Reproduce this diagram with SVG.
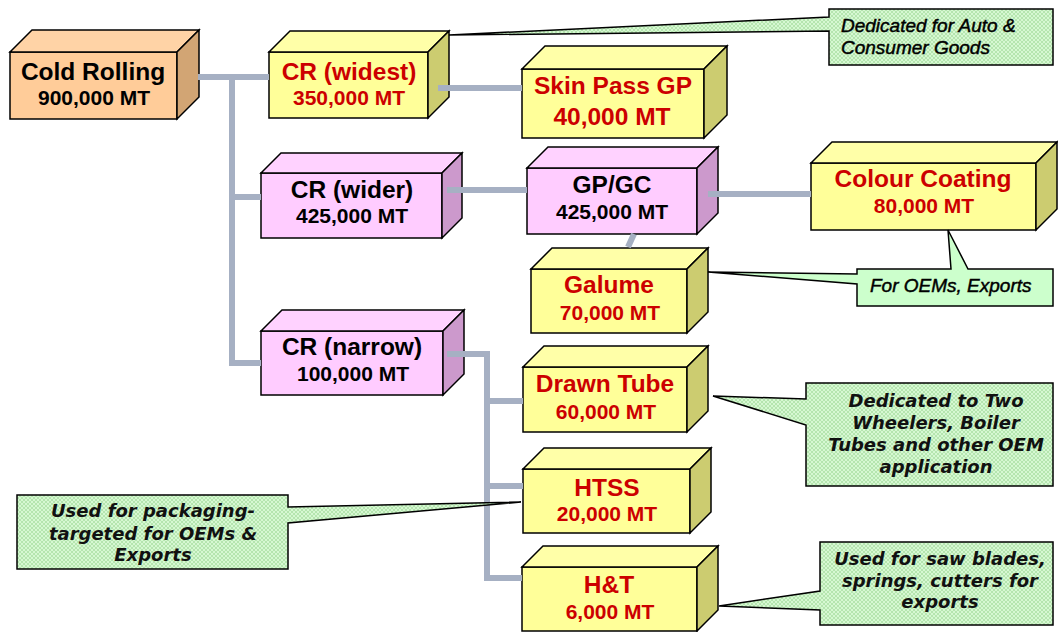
<svg xmlns="http://www.w3.org/2000/svg" width="1058" height="632" viewBox="0 0 1058 632">
<defs>
<pattern id="hatch" width="4" height="4" patternUnits="userSpaceOnUse">
<rect width="4" height="4" fill="#D6F8D2"/>
<path d="M0,0 L4,4 M4,0 L0,4" stroke="#A6DDA0" stroke-width="0.7"/>
</pattern>
<style>
.edge{stroke:#000;stroke-width:1.5;stroke-linejoin:miter}
.yf{fill:#FFFF99}.yt{fill:#FFFFA8}.ys{fill:#CCCC70}
.pf{fill:#FFCCFF}.pt{fill:#FFD2FF}.ps{fill:#CC99CC}
.of{fill:#FFCC99}.ot{fill:#FFD3A6}.os{fill:#D2A574}
.t1{font-family:"Liberation Sans",Arial,sans-serif;font-weight:bold;font-size:24.5px;text-anchor:middle}
.t2{font-family:"Liberation Sans",Arial,sans-serif;font-weight:bold;font-size:21px;text-anchor:middle}
.red{fill:#CC0000}.blk{fill:#000}
.conn{fill:none;stroke:#A6B0C3;stroke-width:6}
.call{stroke:#000;stroke-width:1.5;fill:url(#hatch)}
.callp{stroke:#000;stroke-width:1.5;fill:#CCFFCC}
.ci{font-family:"Liberation Sans",Arial,sans-serif;font-style:italic;font-size:19px;fill:#000;stroke:#000;stroke-width:0.45}
.cv{font-family:"DejaVu Sans",Verdana,sans-serif;font-style:italic;font-weight:bold;font-size:18px;fill:#111;text-anchor:middle}
</style>
</defs>
<rect width="1058" height="632" fill="#FFFFFF"/>

<g id="cold-rolling" class="edge">
<polygon class="of" points="10,52 177,52 177,119 10,119"/>
<polygon class="ot" points="10,52 32,30 199,30 177,52"/>
<polygon class="os" points="177,52 199,30 199,97 177,119"/>
<text class="t1 blk" x="93" y="80" stroke="none">Cold Rolling</text>
<text class="t2 blk" x="94" y="105" stroke="none">900,000 MT</text>
</g>

<g id="cr-widest" class="edge">
<polygon class="yf" points="269,52 428,52 428,118 269,118"/>
<polygon class="yt" points="269,52 290,31 449,31 428,52"/>
<polygon class="ys" points="428,52 449,31 449,97 428,118"/>
<text class="t1 red" x="349" y="80" stroke="none">CR (widest)</text>
<text class="t2 red" x="349" y="105" stroke="none">350,000 MT</text>
</g>

<g id="skin-pass-gp" class="edge">
<polygon class="yf" points="522,69 704,69 704,138 522,138"/>
<polygon class="yt" points="522,69 545,46 727,46 704,69"/>
<polygon class="ys" points="704,69 727,46 727,115 704,138"/>
<text class="t1 red" x="613" y="94" stroke="none">Skin Pass GP</text>
<text class="t1 red" x="612" y="125" stroke="none">40,000 MT</text>
</g>

<g id="cr-wider" class="edge">
<polygon class="pf" points="261,173 442,173 442,238 261,238"/>
<polygon class="pt" points="261,173 281,153 462,153 442,173"/>
<polygon class="ps" points="442,173 462,153 462,218 442,238"/>
<text class="t1 blk" x="352" y="198" stroke="none">CR (wider)</text>
<text class="t2 blk" x="352" y="223" stroke="none">425,000 MT</text>
</g>

<g id="gp-gc" class="edge">
<polygon class="pf" points="527,168 697,168 697,234 527,234"/>
<polygon class="pt" points="527,168 548,147 718,147 697,168"/>
<polygon class="ps" points="697,168 718,147 718,213 697,234"/>
<text class="t1 blk" x="612" y="193" stroke="none">GP/GC</text>
<text class="t2 blk" x="612" y="219" stroke="none">425,000 MT</text>
</g>

<g id="colour-coating" class="edge">
<polygon class="yf" points="811,163 1036,163 1036,230 811,230"/>
<polygon class="yt" points="811,163 832,142 1057,142 1036,163"/>
<polygon class="ys" points="1036,163 1057,142 1057,209 1036,230"/>
<text class="t1 red" x="923" y="187" stroke="none">Colour Coating</text>
<text class="t2 red" x="924" y="213" stroke="none">80,000 MT</text>
</g>

<g id="galume" class="edge">
<polygon class="yf" points="531,269 687,269 687,333 531,333"/>
<polygon class="yt" points="531,269 552,248 708,248 687,269"/>
<polygon class="ys" points="687,269 708,248 708,312 687,333"/>
<text class="t1 red" x="609" y="293" stroke="none">Galume</text>
<text class="t2 red" x="610" y="320" stroke="none">70,000 MT</text>
</g>

<g id="cr-narrow" class="edge">
<polygon class="pf" points="261,331 443,331 443,395 261,395"/>
<polygon class="pt" points="261,331 282,310 464,310 443,331"/>
<polygon class="ps" points="443,331 464,310 464,374 443,395"/>
<text class="t1 blk" x="352" y="355" stroke="none">CR (narrow)</text>
<text class="t2 blk" x="353" y="381" stroke="none">100,000 MT</text>
</g>

<g id="drawn-tube" class="edge">
<polygon class="yf" points="523,367 687,367 687,432 523,432"/>
<polygon class="yt" points="523,367 544,346 708,346 687,367"/>
<polygon class="ys" points="687,367 708,346 708,411 687,432"/>
<text class="t1 red" x="605" y="392" stroke="none">Drawn Tube</text>
<text class="t2 red" x="606" y="419" stroke="none">60,000 MT</text>
</g>

<g id="htss" class="edge">
<polygon class="yf" points="523,469 690,469 690,533 523,533"/>
<polygon class="yt" points="523,469 544,448 711,448 690,469"/>
<polygon class="ys" points="690,469 711,448 711,512 690,533"/>
<text class="t1 red" x="607" y="496" stroke="none">HTSS</text>
<text class="t2 red" x="607" y="521" stroke="none">20,000 MT</text>
</g>

<g id="h-and-t" class="edge">
<polygon class="yf" points="522,567 697,567 697,631 522,631"/>
<polygon class="yt" points="522,567 543,546 718,546 697,567"/>
<polygon class="ys" points="697,567 718,546 718,610 697,631"/>
<text class="t1 red" x="609" y="593" stroke="none">H&amp;T</text>
<text class="t2 red" x="610" y="619" stroke="none">6,000 MT</text>
</g>

<g id="connectors" class="conn">
<path d="M198,77 H269"/>
<path d="M232,77 V363 H261"/>
<path d="M232,197 H261"/>
<path d="M438,88 H522"/>
<path d="M447,190 H527"/>
<path d="M708,194 H811"/>
<path d="M634,234 L628,247"/>
<path d="M447,354 H487 V578 H522"/>
<path d="M487,401 H523"/>
<path d="M487,486 H523"/>
</g>

<g id="callout-auto">
<polygon class="call" points="829,9 1053,9 1053,65 829,65 829,31 449,35 829,17"/>
<text class="ci" x="841" y="32">Dedicated for Auto &amp;</text>
<text class="ci" x="841" y="54">Consumer Goods</text>
</g>

<g id="callout-oems">
<polygon class="callp" points="857,269 951,269 948,230 968,269 1053,269 1053,306 857,306 857,284 708,272 857,274"/>
<text class="ci" x="870" y="292" font-size="18.5">For OEMs, Exports</text>
</g>

<g id="callout-two-wheelers">
<polygon class="call" points="806,383 1053,383 1053,486 806,486 806,425 713,396 806,399"/>
<text class="cv" x="936" y="407">Dedicated to Two</text>
<text class="cv" x="936" y="429">Wheelers, Boiler</text>
<text class="cv" x="936" y="451">Tubes and other OEM</text>
<text class="cv" x="936" y="473">application</text>
</g>

<g id="callout-saw">
<polygon class="call" points="820,542 1053,542 1053,625 820,625 820,610 719,606 820,591"/>
<text class="cv" x="940" y="565">Used for saw blades,</text>
<text class="cv" x="940" y="587">springs, cutters for</text>
<text class="cv" x="940" y="608">exports</text>
</g>

<g id="callout-packaging">
<polygon class="call" points="17,495 288,495 288,507 521,502 288,523 288,569 17,569"/>
<text class="cv" x="153" y="517" font-size="17.5">Used for packaging-</text>
<text class="cv" x="153" y="540" font-size="17.5">targeted for OEMs &amp;</text>
<text class="cv" x="153" y="561" font-size="17.5">Exports</text>
</g>
</svg>
